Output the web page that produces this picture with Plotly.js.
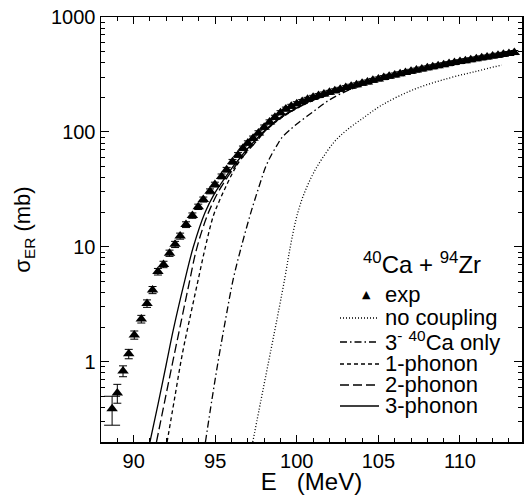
<!DOCTYPE html>
<html>
<head>
<meta charset="utf-8">
<script src="https://cdn.plot.ly/plotly-3.0.1.min.js"></script>
<style>html,body{margin:0;padding:0;background:#fff;}#plot{width:528px;height:495px;}</style>
</head>
<body>
<div id="plot"></div>
<script>
// Experimental data (E in MeV, sigma_ER in mb)
const expE = [88.68, 89.0, 89.35, 89.70, 90.04, 90.47, 90.82, 91.16, 91.49, 91.83, 92.2, 92.54, 92.85, 93.21, 93.6, 93.96, 94.27, 94.68, 94.98, 95.39, 95.70, 96.06, 96.4, 96.7, 97.0, 97.32, 97.65, 98.0, 98.33, 98.66, 99.0, 99.33, 99.66, 100.0, 100.33, 100.66, 101.0, 101.33, 101.66, 102.0, 102.33, 102.66, 103.0, 103.33, 103.66, 104.0, 104.33, 104.66, 105.0, 105.33, 105.66, 106.0, 106.33, 106.66, 107.0, 107.33, 107.66, 108.0, 108.33, 108.66, 109.0, 109.33, 109.66, 110.0, 110.33, 110.66, 111.0, 111.33, 111.66, 112.0, 112.33, 112.66, 113.0, 113.33];
const expSigma = [0.39, 0.535, 0.83, 1.17, 1.71, 2.35, 3.21, 4.21, 6.08, 7.03, 8.8, 10.5, 12.4, 15.6, 18.7, 22.3, 25.8, 30.4, 34.8, 41, 46.9, 55, 63, 72, 80, 88, 98, 110, 122, 134, 147, 158, 167, 176, 184, 192, 200, 207, 214, 221, 228, 235, 243, 250, 257, 265, 272, 281, 289, 297, 305, 313, 321, 329, 337, 345, 353, 361, 369, 377, 385, 393, 401, 409, 417, 425, 433, 441, 449, 457, 465, 473, 482, 491];
const expErr = [0.11, 0.10, 0.09, 0.11, 0.14, 0.18, 0.24, 0.3, 0.4, 0.45, 0.55, 0.65, 0.75, 0.9, 1.0, 1.2, 1.3, 1.5, 1.7, 2.0, 2.2, 2.6, 3.0, 3.3, 3.6, 4, 4.3, 4.8, 5.2, 5.6, 6, 6.4, 6.8, 7.2, 7.5, 7.8, 8, 8.3, 8.5, 8.8, 9, 9.3, 9.6, 9.9, 10, 10.5, 10.8, 11, 11.5, 12, 12, 12.5, 13, 13, 13.5, 14, 14, 14.5, 15, 15, 15, 16, 16, 16, 17, 17, 17, 18, 18, 18, 19, 19, 19, 20];

// Coupled-channels calculations
const ncE = [97.3, 97.8, 98.3, 98.8, 99.25, 99.6, 99.96, 100.3, 100.67, 101.1, 101.6, 102.3, 103.0, 104.0, 105.24, 107.2, 109.3, 111.0, 112.56];
const ncSigma = [0.2, 0.46, 1.05, 2.4, 5.2, 10, 17.5, 25.5, 34.5, 46, 60, 82, 102, 130, 172, 235, 293, 337, 382];

const caE = [94.4, 94.8, 95.2, 95.65, 96.1, 96.6, 97.12, 97.4, 97.73, 98.1, 98.44, 98.8, 99.05, 99.5, 100.0, 101.0, 102.0, 103.0, 104.0, 105.0, 107.0, 109.0, 111.0, 113.3];
const caSigma = [0.2, 0.47, 1.05, 2.4, 5.2, 10, 18.5, 25, 35, 50, 63, 77, 88, 102, 117, 150, 190, 225, 255, 283, 330, 377, 420, 470];

const ph1E = [92.05, 92.5, 93.0, 93.5, 93.96, 94.4, 94.88, 95.3, 95.7, 96.1, 96.5, 97.0, 97.5, 98.0, 98.5, 99.0, 100.0, 101.0, 102.0, 104.0, 106.0, 108.0, 110.0, 112.0, 113.3];
const ph1Sigma = [0.2, 0.47, 1.2, 2.6, 5.2, 10, 18.5, 26, 34.5, 45, 56, 70, 85, 100, 116, 131, 160, 188, 212, 260, 308, 355, 402, 448, 475];

const ph2E = [91.4, 91.9, 92.4, 92.9, 93.4, 93.86, 94.5, 95.1, 95.6, 96.1, 96.6, 97.1, 97.6, 98.0, 98.5, 99.0, 100.0, 101.0, 102.0, 103.0, 105.0, 107.0, 109.0, 111.0, 113.3];
const ph2Sigma = [0.2, 0.45, 1.0, 2.2, 4.8, 9.6, 18.5, 28.5, 37.5, 47.5, 58.5, 71, 85, 100, 116, 132, 161, 189, 213, 237, 285, 333, 379, 424, 475];

const ph3E = [91.0, 91.5, 92.0, 92.44, 93.15, 93.66, 94.37, 94.98, 95.5, 96.0, 96.5, 97.0, 97.5, 98.0, 98.5, 99.0, 100.0, 101.0, 102.0, 103.0, 105.0, 107.0, 109.0, 111.0, 113.3];
const ph3Sigma = [0.2, 0.43, 0.95, 1.92, 5.2, 10, 19.8, 29.5, 38, 48, 59, 72, 86, 102, 118, 134, 162, 190, 214, 238, 286, 334, 380, 425, 476];

// Legend entries and labels
const legendNames = ['exp', 'no coupling', '3<sup>-</sup> <sup>40</sup>Ca only', '1-phonon', '2-phonon', '3-phonon'];
const legendDash = [null, '1px,2px', '7px,3px,1.5px,3px', '4px,3px', '9px,4px', 'solid'];
const xTickVals = [90, 95, 100, 105, 110];
const yTickVals = [1, 10, 100, 1000];
const yTickText = ['1', '10', '100', '1000'];
const reactionLabel = '<sup>40</sup>Ca + <sup>94</sup>Zr';

const FONT = 'Liberation Sans, Arial, Helvetica, sans-serif';
const lw = 1.3;

const curveSets = [[ncE, ncSigma], [caE, caSigma], [ph1E, ph1Sigma], [ph2E, ph2Sigma], [ph3E, ph3Sigma]];

const traces = [
  // lowest-energy point is drawn with the wide error caps seen in the reference
  {x: expE.slice(0, 1), y: expSigma.slice(0, 1), name: legendNames[0], type: 'scatter', mode: 'markers',
   showlegend: false, marker: {symbol: 'triangle-up', size: 10, color: 'black'},
   error_y: {type: 'data', array: expErr.slice(0, 1), visible: true, color: 'black', thickness: 1, width: 8}},
  {x: expE.slice(1), y: expSigma.slice(1), name: legendNames[0], type: 'scatter', mode: 'markers',
   marker: {symbol: 'triangle-up', size: 10, color: 'black'},
   error_y: {type: 'data', array: expErr.slice(1), visible: true, color: 'black', thickness: 1, width: 4}}
];
curveSets.forEach((c, i) => {
  traces.push({x: c[0], y: c[1], name: legendNames[i + 1], type: 'scatter', mode: 'lines',
    line: {color: 'black', width: lw, dash: legendDash[i + 1], shape: 'spline', smoothing: 1}});
});

// Plot area in pixels: left 101, right 522, top 17, bottom 442
const L = 101, R = 522, T = 17, B = 442;
const px = v => (v - L) / (R - L);
const py = v => (B - v) / (B - T);

const yMinor = [];
[0.1, 1, 10, 100].forEach(d => { for (let k = 2; k <= 9; k++) yMinor.push(k * d); });

// Manual legend (tight rows as in the reference)
const rowY = [294, 317, 341, 363, 384, 405];
const shapes = [];
const annotations = [
  {xref: 'paper', yref: 'paper', x: px(361), y: py(263), xanchor: 'left', yanchor: 'middle', showarrow: false,
   text: reactionLabel, font: {family: FONT, size: 24, color: 'black'}}
];
legendNames.forEach((nm, i) => {
  annotations.push({xref: 'paper', yref: 'paper', x: px(383), y: py(rowY[i]), xanchor: 'left', yanchor: 'middle',
    showarrow: false, text: nm, font: {family: FONT, size: 22, color: 'black'}});
  if (i === 0) {
    annotations.push({xref: 'paper', yref: 'paper', x: px(366), y: py(rowY[i]), xanchor: 'center', yanchor: 'middle',
      showarrow: false, text: '▲', font: {family: 'DejaVu Sans, sans-serif', size: 11, color: 'black'}});
  } else {
    shapes.push({type: 'line', xref: 'paper', yref: 'paper', x0: px(340), x1: px(379), y0: py(rowY[i] + 1), y1: py(rowY[i] + 1),
      line: {color: 'black', width: lw, dash: legendDash[i]}});
  }
});

const layout = {
  width: 528, height: 495,
  margin: {l: L, r: 528 - R, t: T, b: 495 - B},
  paper_bgcolor: 'white', plot_bgcolor: 'white',
  font: {family: FONT, color: 'black', size: 20},
  showlegend: false,
  xaxis: {
    range: [88, 113.8], tickmode: 'array', tickvals: xTickVals,
    ticks: 'inside', ticklen: 7, tickwidth: 1, tickcolor: 'black',
    showline: true, linecolor: 'black', linewidth: 1.5, mirror: 'allticks',
    showgrid: false, zeroline: false,
    tickfont: {family: FONT, size: 20},
    minor: {dtick: 1, tick0: 88, ticks: 'inside', ticklen: 4, tickcolor: 'black', tickwidth: 1, showgrid: false},
    title: {text: 'E\u00a0\u00a0\u00a0(MeV)\u00a0', font: {family: FONT, size: 24}, standoff: 6}
  },
  yaxis: {
    type: 'log', range: [Math.log10(0.2), 3], tickmode: 'array', tickvals: yTickVals, ticktext: yTickText,
    ticks: 'inside', ticklen: 8, tickwidth: 1, tickcolor: 'black',
    showline: true, linecolor: 'black', linewidth: 1.5, mirror: 'allticks',
    showgrid: false, zeroline: false,
    tickfont: {family: FONT, size: 20},
    minor: {tickmode: 'array', tickvals: yMinor, ticks: 'inside', ticklen: 4, tickcolor: 'black', tickwidth: 1, showgrid: false},
    title: {text: 'σ<sub>ER</sub> (mb)', font: {family: FONT, size: 22}, standoff: 14}
  },
  shapes: shapes,
  annotations: annotations
};

Plotly.newPlot('plot', traces, layout, {displayModeBar: false, staticPlot: true});
</script>
</body>
</html>
